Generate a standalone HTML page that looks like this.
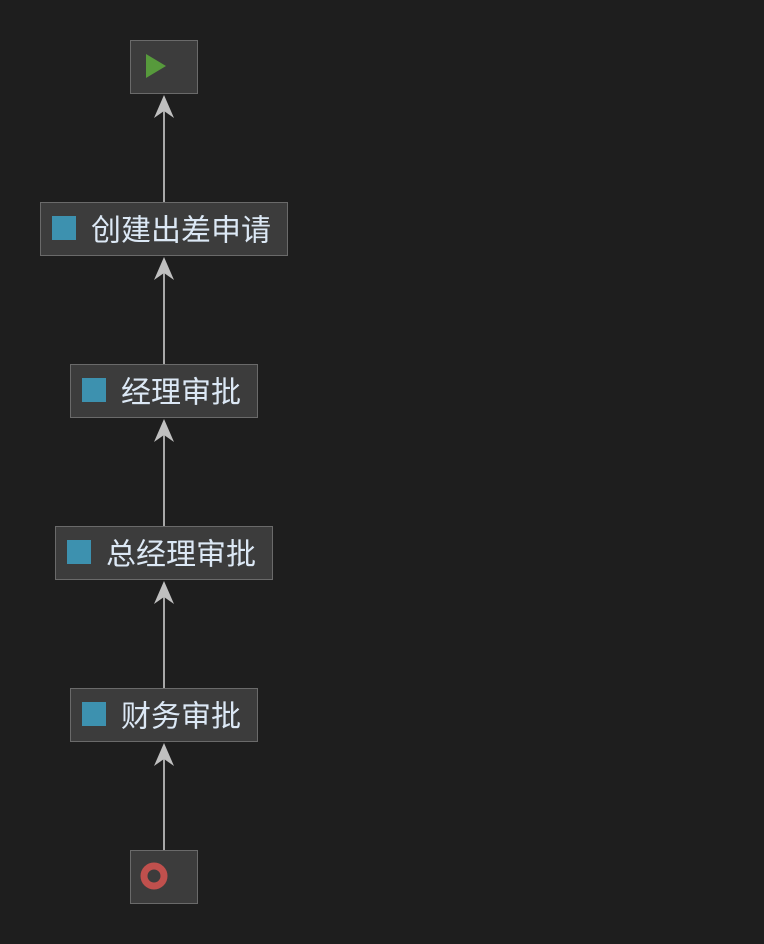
<!DOCTYPE html>
<html><head><meta charset="utf-8"><style>
html,body{margin:0;padding:0;background:#1e1e1e;}
svg{display:block}
text{font-family:"Liberation Sans","Noto Sans CJK SC",sans-serif;font-size:30px;fill:#dce8f5;dominant-baseline:central}
</style></head><body>
<svg width="764" height="944" viewBox="0 0 764 944" xmlns="http://www.w3.org/2000/svg">
<rect width="764" height="944" fill="#1e1e1e"/>
<g stroke="#a8a8a8" stroke-width="2">
<line x1="164" y1="110" x2="164" y2="202"/>
<line x1="164" y1="272" x2="164" y2="364"/>
<line x1="164" y1="434" x2="164" y2="526"/>
<line x1="164" y1="596" x2="164" y2="688"/>
<line x1="164" y1="758" x2="164" y2="850"/>
</g>
<g fill="#c0c0c0">
<path d="M164 95 L174 118 L164 111 L154 118 Z"/>
<path d="M164 257 L174 280 L164 273 L154 280 Z"/>
<path d="M164 419 L174 442 L164 435 L154 442 Z"/>
<path d="M164 581 L174 604 L164 597 L154 604 Z"/>
<path d="M164 743 L174 766 L164 759 L154 766 Z"/>
</g>
<g fill="#3c3c3c" stroke="#6a6a6a" stroke-width="1">
<rect x="130.5" y="40.5" width="67" height="53"/>
<rect x="40.5" y="202.5" width="247" height="53"/>
<rect x="70.5" y="364.5" width="187" height="53"/>
<rect x="55.5" y="526.5" width="217" height="53"/>
<rect x="70.5" y="688.5" width="187" height="53"/>
<rect x="130.5" y="850.5" width="67" height="53"/>
</g>
<path d="M146 54 L166 66 L146 78 Z" fill="#579a3c"/>
<circle cx="154" cy="876" r="10" fill="none" stroke="#c0504d" stroke-width="7"/>
<g fill="#3d91af">
<rect x="52" y="216" width="24" height="24"/>
<rect x="82" y="378" width="24" height="24"/>
<rect x="67" y="540" width="24" height="24"/>
<rect x="82" y="702" width="24" height="24"/>
</g>
<text x="91" y="231">创建出差申请</text>
<text x="121" y="393">经理审批</text>
<text x="106" y="555">总经理审批</text>
<text x="121" y="717">财务审批</text>
</svg>
</body></html>
